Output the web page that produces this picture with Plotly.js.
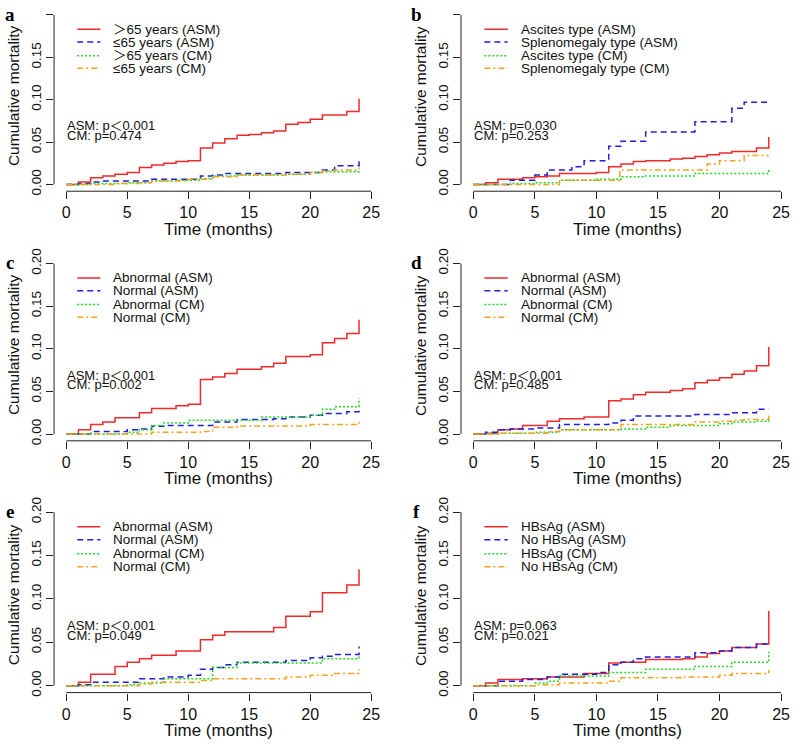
<!DOCTYPE html>
<html><head><meta charset="utf-8">
<script src="https://cdn.plot.ly/plotly-3.0.1.min.js"></script>
<style>html,body{margin:0;padding:0;background:#fff}#chart{width:797px;height:744px}</style>
</head><body><div id="chart"></div>
<script>
// ---------- data ----------
const panelLetters = ['a','b','c','d','e','f'];
const xTicks = [0,5,10,15,20,25];
const yTicks = [0,0.05,0.10,0.15,0.20];
const xTitle = 'Time (months)';
const yTitle = 'Cumulative mortality';

const legendA = ['\uFF1E65 years (ASM)','\u226465 years (ASM)','\uFF1E65 years (CM)','\u226465 years (CM)'];
const legendB = ['Ascites type (ASM)','Splenomegaly type (ASM)','Ascites type (CM)','Splenomegaly type (CM)'];
const legendC = ['Abnormal (ASM)','Normal (ASM)','Abnormal (CM)','Normal (CM)'];
const legendD = ['Abnormal (ASM)','Normal (ASM)','Abnormal (CM)','Normal (CM)'];
const legendE = ['Abnormal (ASM)','Normal (ASM)','Abnormal (CM)','Normal (CM)'];
const legendF = ['HBsAg (ASM)','No HBsAg (ASM)','HBsAg (CM)','No HBsAg (CM)'];

const pTextA = ['ASM: p\uFF1C0.001','CM: p=0.474'];
const pTextB = ['ASM: p=0.030','CM: p=0.253'];
const pTextC = ['ASM: p\uFF1C0.001','CM: p=0.002'];
const pTextD = ['ASM: p\uFF1C0.001','CM: p=0.485'];
const pTextE = ['ASM: p\uFF1C0.001','CM: p=0.049'];
const pTextF = ['ASM: p=0.063','CM: p=0.021'];

// panel a
const aRedT = [0,1,2,3,4,5,6,7,8,9,10,11,12,13,14,15,16,17,18,19,20,21,23,24];
const aRedY = [0,0.003,0.008,0.010,0.012,0.014,0.020,0.023,0.025,0.027,0.028,0.043,0.049,0.054,0.058,0.059,0.061,0.063,0.071,0.073,0.077,0.082,0.086,0.101];
const aBlueT = [0,1,2,3,7,11,12,13,18,21,22,24];
const aBlueY = [0,0.001,0.003,0.004,0.006,0.010,0.011,0.013,0.014,0.017,0.022,0.029];
const aGreenT = [0,2,5,7,9,11,12,14,18,20,21,24];
const aGreenY = [0,0.001,0.002,0.004,0.005,0.007,0.010,0.011,0.012,0.014,0.015,0.018];
const aOrangeT = [0,4,6,7,10,12,14,18,20,21,22,24];
const aOrangeY = [0,0.001,0.002,0.004,0.006,0.009,0.011,0.012,0.014,0.016,0.017,0.020];
// panel b
const bRedT = [0,1,2,4,5,6,7,10,11,12,13,14,16,17,18,19,20,21,23,24];
const bRedY = [0,0.002,0.006,0.008,0.009,0.010,0.013,0.014,0.021,0.024,0.027,0.028,0.030,0.031,0.033,0.035,0.037,0.039,0.043,0.056];
const bBlueT = [0,3,5,6,8,9,11,12,14,18,21,22,24];
const bBlueY = [0,0.005,0.011,0.017,0.021,0.028,0.045,0.051,0.062,0.074,0.090,0.097,0.097];
const bGreenT = [0,3,5,7,10,12,14,18,24];
const bGreenY = [0,0.001,0.002,0.005,0.006,0.009,0.010,0.013,0.018];
const bOrangeT = [0,7,11.9,19,20,22,24];
const bOrangeY = [0,0.005,0.017,0.024,0.028,0.034,0.034];
// panel c
const cRedT = [0,1,2,3,4,6,7,9,10,11,12,13,14,16,17,18,20,21,22,23,24];
const cRedY = [0,0.005,0.011,0.014,0.019,0.025,0.030,0.033,0.035,0.064,0.067,0.071,0.076,0.079,0.083,0.091,0.093,0.107,0.112,0.118,0.134];
const cBlueT = [0,2,5,6,7,8,12,14,17,18,20,21,23,24];
const cBlueY = [0,0.003,0.005,0.006,0.009,0.010,0.014,0.017,0.018,0.020,0.022,0.024,0.026,0.029];
const cGreenT = [0,5,6,7,8,10,16,20,21,22,24];
const cGreenY = [0,0.002,0.005,0.010,0.013,0.016,0.020,0.022,0.029,0.032,0.042];
const cOrangeT = [0,7,11,12,14,20,24];
const cOrangeY = [0,0.002,0.003,0.008,0.0095,0.011,0.014];
// panel d
const dRedT = [0,1,2,3,4,6,7,9,11,12,13,14,16,17,18,19,20,21,22,23,24];
const dRedY = [0,0.001,0.005,0.006,0.010,0.015,0.018,0.020,0.039,0.041,0.046,0.049,0.051,0.053,0.060,0.063,0.066,0.070,0.074,0.080,0.102];
const dBlueT = [0,1,2,3,5,7,11,12,13,18,21,23,24];
const dBlueY = [0,0.002,0.005,0.006,0.007,0.011,0.013,0.016,0.021,0.023,0.025,0.029,0.029];
const dGreenT = [0,2,5,7,12,14,16,20,21,23,24];
const dGreenY = [0,0.001,0.002,0.005,0.006,0.008,0.010,0.012,0.014,0.015,0.018];
const dOrangeT = [0,2,6,7,12,18,20,21,22,24];
const dOrangeY = [0,0.001,0.003,0.005,0.011,0.014,0.015,0.016,0.017,0.022];
// panel e
const eRedT = [0,1,2,4,5,6,7,9,11,12,13,17,18,20,21,23,24];
const eRedY = [0,0.004,0.013,0.022,0.027,0.031,0.035,0.040,0.053,0.058,0.062,0.067,0.080,0.085,0.107,0.116,0.134];
const eBlueT = [0,1,2,6,8,10,11,12,13,14,18,20,21,22,24];
const eBlueY = [0,0.001,0.004,0.008,0.010,0.012,0.019,0.021,0.024,0.027,0.029,0.032,0.034,0.036,0.045];
const eGreenT = [0,5,6,8,12,14,21,24];
const eGreenY = [0,0.001,0.003,0.008,0.021,0.026,0.031,0.035];
const eOrangeT = [0,6,7,11,12,18,20,22,24];
const eOrangeY = [0,0.002,0.004,0.006,0.008,0.010,0.012,0.014,0.019];
// panel f
const fRedT = [0,1,2,4,6,9,11,12,14,17,18,19,20,21,23,24];
const fRedY = [0,0.003,0.007,0.008,0.010,0.014,0.026,0.027,0.030,0.031,0.033,0.037,0.040,0.044,0.048,0.086];
const fBlueT = [0,2,4,6,7,10,11,12,13,14,18,20,21,23,24];
const fBlueY = [0,0.005,0.007,0.010,0.013,0.015,0.024,0.027,0.031,0.033,0.038,0.040,0.044,0.048,0.049];
const fGreenT = [0,5,6,7,11,14,18,21,24];
const fGreenY = [0,0.003,0.005,0.011,0.015,0.019,0.022,0.027,0.039];
const fOrangeT = [0,5,7,11,12,17,20,21,24];
const fOrangeY = [0,0.001,0.003,0.005,0.009,0.010,0.012,0.014,0.018];

// ---------- assembly ----------
const panels = [
  {letter:panelLetters[0], legend:legendA, p:pTextA, s:[[aRedT,aRedY],[aBlueT,aBlueY],[aGreenT,aGreenY],[aOrangeT,aOrangeY]]},
  {letter:panelLetters[1], legend:legendB, p:pTextB, s:[[bRedT,bRedY],[bBlueT,bBlueY],[bGreenT,bGreenY],[bOrangeT,bOrangeY]]},
  {letter:panelLetters[2], legend:legendC, p:pTextC, s:[[cRedT,cRedY],[cBlueT,cBlueY],[cGreenT,cGreenY],[cOrangeT,cOrangeY]]},
  {letter:panelLetters[3], legend:legendD, p:pTextD, s:[[dRedT,dRedY],[dBlueT,dBlueY],[dGreenT,dGreenY],[dOrangeT,dOrangeY]]},
  {letter:panelLetters[4], legend:legendE, p:pTextE, s:[[eRedT,eRedY],[eBlueT,eBlueY],[eGreenT,eGreenY],[eOrangeT,eOrangeY]]},
  {letter:panelLetters[5], legend:legendF, p:pTextF, s:[[fRedT,fRedY],[fBlueT,fBlueY],[fGreenT,fGreenY],[fOrangeT,fOrangeY]]}
];

const styles = [
  {color:'#f02a2a', dash:'solid'},
  {color:'#2020d8', dash:'6px,4px'},
  {color:'#22d822', dash:'2px,2px'},
  {color:'#f5a21e', dash:'6px,3px,2px,3px'}
];
const LW = 1.5;
const FONT = 'Liberation Sans, Arial, Noto Sans CJK SC, sans-serif';
const colDom = [[0.0678,0.4811],[0.5784,0.9955]];
const rowDom = [[0.743,0.989],[0.4075,0.655],[0.0691,0.3211]];
const legendRows = [0.183,0.168,0.152,0.137];

const traces = [];
const layout = {
  width:797, height:744, margin:{l:0,r:0,t:0,b:0},
  paper_bgcolor:'#fff', plot_bgcolor:'#fff', showlegend:false,
  font:{family:FONT, color:'#111'},
  annotations:[], shapes:[]
};

panels.forEach((pn, i) => {
  const col = i % 2, row = Math.floor(i/2);
  const xa = i === 0 ? 'x' : 'x' + (i+1);
  const ya = i === 0 ? 'y' : 'y' + (i+1);
  const xk = i === 0 ? 'xaxis' : 'xaxis' + (i+1);
  const yk = i === 0 ? 'yaxis' : 'yaxis' + (i+1);
  layout[xk] = {domain:colDom[col], range:[-1,26], anchor:ya, tickvals:xTicks, ticktext:xTicks.map(String),
    ticks:'outside', ticklen:7, tickcolor:'#222', showline:false, zeroline:false, showgrid:false,
    tickfont:{size:16, family:FONT, color:'#111'}, fixedrange:true};
  layout[yk] = {domain:rowDom[row], range:[-0.008,0.208], anchor:xa, tickvals:yTicks, tickformat:'.2f',
    tickangle:-90, ticks:'outside', ticklen:7, tickcolor:'#222', showline:false, zeroline:false, showgrid:false,
    tickfont:{size:13.5, family:FONT, color:'#111'}, fixedrange:true};

  pn.s.forEach((ser, k) => {
    traces.push({x:ser[0], y:ser[1], xaxis:xa, yaxis:ya, mode:'lines', hoverinfo:'skip',
      line:{shape:'hv', color:styles[k].color, width:LW, dash:styles[k].dash}});
  });

  // R-style axis lines
  layout.shapes.push({type:'line', xref:xa, yref:ya+' domain', x0:xTicks[0], x1:xTicks[xTicks.length-1], y0:0, y1:0, line:{color:'#222', width:1}});
  layout.shapes.push({type:'line', xref:xa+' domain', yref:ya, x0:0, x1:0, y0:yTicks[0], y1:yTicks[yTicks.length-1], line:{color:'#222', width:1}});

  // legend
  pn.legend.forEach((lab, k) => {
    layout.shapes.push({type:'line', xref:xa, yref:ya, x0:0.9, x1:2.8, y0:legendRows[k], y1:legendRows[k],
      line:{color:styles[k].color, width:LW, dash:styles[k].dash}});
    layout.annotations.push({xref:xa, yref:ya, x:3.7, y:legendRows[k], text:lab, showarrow:false,
      xanchor:'left', yanchor:'middle', font:{size:13.5, family:FONT, color:'#111'}});
  });

  // p-values
  layout.annotations.push({xref:xa, yref:ya, x:-0.1, y:0.069, text:pn.p[0], showarrow:false, xanchor:'left', yanchor:'middle', font:{size:13, family:FONT, color:'#111'}});
  layout.annotations.push({xref:xa, yref:ya, x:-0.1, y:0.058, text:pn.p[1], showarrow:false, xanchor:'left', yanchor:'middle', font:{size:13, family:FONT, color:'#111'}});

  // axis titles
  layout.annotations.push({xref:xa+' domain', yref:'paper', x:0.5, y:rowDom[row][0], yshift:-38, text:xTitle, showarrow:false,
    xanchor:'center', yanchor:'middle', font:{size:17, family:FONT, color:'#111'}});
  layout.annotations.push({xref:'paper', yref:ya+' domain', x:colDom[col][0], xshift:-41, y:0.52, text:yTitle, showarrow:false, textangle:-90,
    xanchor:'center', yanchor:'middle', font:{size:15.5, family:FONT, color:'#111'}});
  // panel letter
  layout.annotations.push({xref:'paper', yref:ya+' domain', x:colDom[col][0], xshift:-44, y:1, yshift:-6, text:'<b>'+pn.letter+'</b>', showarrow:false,
    xanchor:'center', yanchor:'middle', font:{size:19, family:'Liberation Serif, DejaVu Serif, serif', color:'#000'}});
});

Plotly.newPlot('chart', traces, layout, {staticPlot:true, displayModeBar:false});
</script>
</body></html>
